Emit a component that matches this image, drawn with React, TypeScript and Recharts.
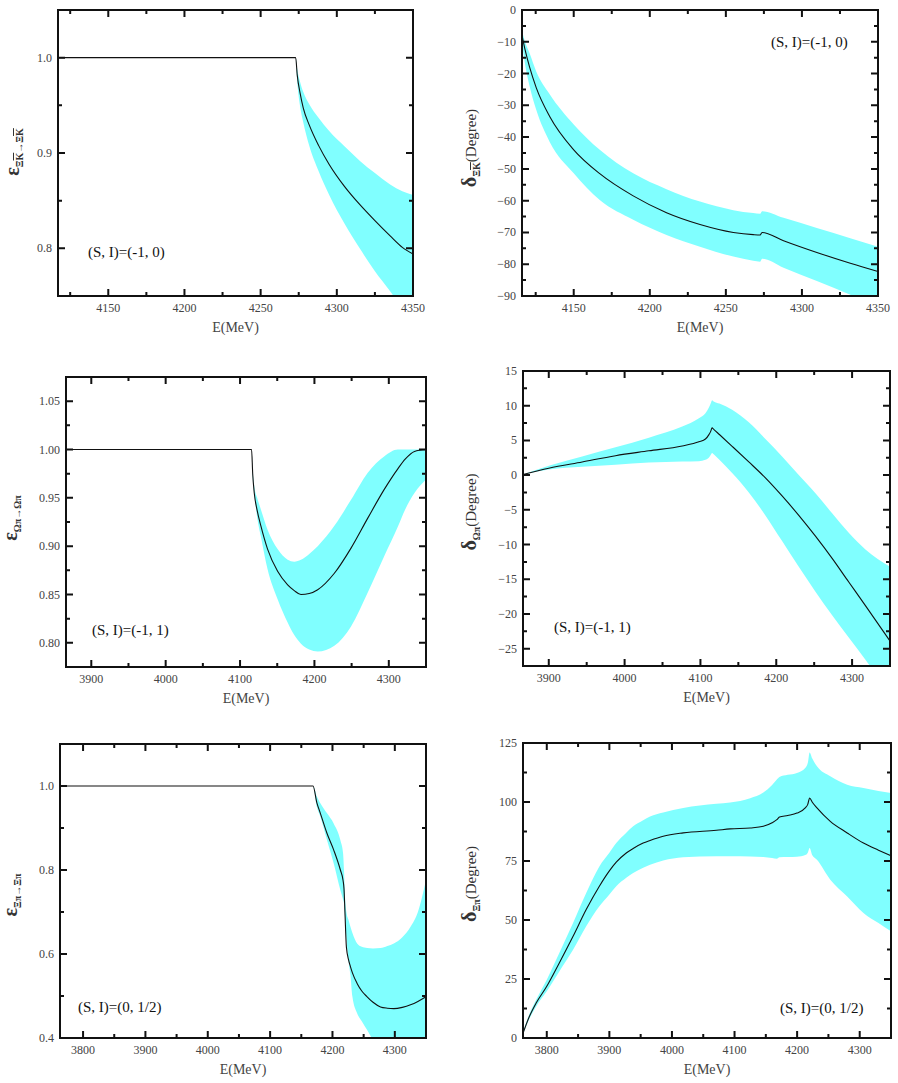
import React from "react";
import { ComposedChart, Area, Line, XAxis, YAxis } from "recharts";

const FONT = '"Liberation Serif", "DejaVu Serif", serif';
const BAND = "#80ffff";
const INK = "#111";

// ---- (S,I)=(-1,0) : inelasticity, Xi Kbar
const e1 = [4117, 4273, 4274, 4276, 4278, 4282, 4288, 4295, 4305, 4315, 4325, 4335, 4343, 4350];
const c1 = [1, 1, 0.982, 0.962, 0.947, 0.929, 0.908, 0.888, 0.865, 0.846, 0.829, 0.813, 0.801, 0.794];
const h1 = [1, 1, 0.988, 0.974, 0.964, 0.951, 0.937, 0.923, 0.907, 0.892, 0.879, 0.867, 0.86, 0.856];
const l1 = [1, 1, 0.975, 0.948, 0.932, 0.907, 0.881, 0.856, 0.826, 0.8, 0.776, 0.755, 0.737, 0.728];

// ---- (S,I)=(-1,0) : phase shift, Xi Kbar
const e2 = [4116, 4118, 4121, 4125.4, 4134.2, 4150, 4167.1, 4189.1, 4211, 4233, 4254.9, 4268, 4272.5, 4273.8, 4287.9, 4309.8, 4331.8, 4350];
const c2 = [-8, -12.5, -18, -24.5, -33.5, -44, -51.5, -58.5, -63.8, -67.5, -70, -70.7, -70.8, -70, -72.6, -76.3, -79.7, -82.3];
const h2 = [-6.5, -10, -13.6, -19.4, -26.5, -36, -44, -51.4, -56.4, -60.3, -63, -63.9, -64.1, -63.3, -65.4, -68.6, -71.8, -74.5];
const l2 = [-10, -17, -24, -31.5, -41.5, -51.4, -59.8, -66, -70.8, -74.5, -77.6, -78.9, -79.2, -78.3, -81.1, -85.3, -89.6, -93.1];

// ---- (S,I)=(-1,1) : inelasticity, Omega pi
const e3 = [3866, 4115.5, 4117, 4119.1, 4123, 4128, 4137, 4150.5, 4164, 4172.9, 4181.9, 4193, 4204.4, 4226.8, 4249.2, 4271.7, 4294.1, 4312.1, 4322, 4334.5, 4350];
const c3 = [1, 1, 0.975, 0.955, 0.937, 0.921, 0.897, 0.874, 0.86, 0.854, 0.85, 0.851, 0.855, 0.872, 0.898, 0.929, 0.959, 0.98, 0.99, 0.998, 1];
const h3 = [1, 1, 0.978, 0.962, 0.95, 0.938, 0.917, 0.897, 0.886, 0.884, 0.886, 0.892, 0.9, 0.921, 0.948, 0.976, 0.993, 1, 1, 1, 1];
const l3 = [1, 1, 0.972, 0.955, 0.93, 0.91, 0.876, 0.845, 0.821, 0.808, 0.799, 0.793, 0.791, 0.797, 0.817, 0.852, 0.89, 0.92, 0.938, 0.955, 0.969];

// ---- (S,I)=(-1,1) : phase shift, Omega pi
const e4 = [3866, 3900, 3944, 3988, 4032, 4076, 4098, 4106.6, 4111, 4113.5, 4115.4, 4117.5, 4125, 4141.8, 4163.8, 4185.7, 4207.7, 4229.7, 4251.7, 4273.7, 4295.6, 4317.6, 4350];
const c4 = [0.1, 1, 1.9, 2.8, 3.5, 4.2, 4.8, 5.2, 5.8, 6.3, 6.8, 6.6, 5.85, 4.15, 1.9, -0.4, -3, -5.8, -8.8, -12, -15.4, -18.8, -23.9];
const h4 = [0.1, 1.35, 2.7, 4, 5.4, 7, 8.2, 8.9, 9.7, 10.3, 10.8, 10.6, 10.3, 9.4, 7.6, 5.2, 2.7, 0, -2.6, -5.5, -8.3, -10.7, -13.2];
const l4 = [0.1, 0.8, 1.2, 1.5, 1.8, 1.95, 2, 2.2, 2.5, 2.9, 3.2, 3, 2.2, 0.3, -2.5, -5.8, -9.5, -13.2, -16.8, -20.2, -23.4, -26.6, -31.3];

// ---- (S,I)=(0,1/2) : inelasticity, Xi pi
const e5 = [3763, 4168.8, 4175, 4180.6, 4191.3, 4201.9, 4212.7, 4217, 4218.5, 4220, 4222.3, 4226, 4228.8, 4232, 4239.5, 4247, 4255.6, 4265, 4277, 4288, 4298.4, 4312, 4325.2, 4337, 4350];
const c5 = [1, 1, 0.96, 0.935, 0.887, 0.848, 0.8, 0.775, 0.755, 0.7, 0.617, 0.585, 0.57, 0.555, 0.53, 0.512, 0.498, 0.485, 0.474, 0.471, 0.47, 0.473, 0.479, 0.487, 0.498];
const h5 = [1, 1, 0.975, 0.959, 0.935, 0.911, 0.871, 0.84, 0.8, 0.74, 0.7, 0.68, 0.665, 0.65, 0.625, 0.617, 0.614, 0.613, 0.614, 0.619, 0.625, 0.64, 0.665, 0.7, 0.776];
const l5 = [1, 1, 0.95, 0.927, 0.871, 0.816, 0.752, 0.73, 0.72, 0.69, 0.64, 0.58, 0.55, 0.498, 0.459, 0.44, 0.419, 0.395, 0.37, 0.355, 0.345, 0.34, 0.34, 0.34, 0.345];

// ---- (S,I)=(0,1/2) : phase shift, Xi pi
const e6 = [3762, 3772, 3783, 3800, 3820, 3842, 3863, 3884, 3900, 3911, 3927, 3938, 3954, 3965, 3986, 4018, 4071, 4093, 4125, 4146, 4160, 4167.6, 4171.8, 4185, 4199.7, 4213, 4217, 4220, 4224, 4231.7, 4253, 4280, 4306, 4330, 4350];
const c6 = [2, 9, 14.8, 21.9, 31.8, 43.1, 54.4, 64.3, 70.8, 74.5, 78.4, 80.3, 82.6, 83.7, 85.5, 86.9, 88, 88.6, 89, 89.7, 91.2, 92.5, 93.6, 94.3, 95.3, 97.5, 99, 101.7, 100, 97.5, 91.8, 86.9, 82.6, 79.6, 77.2];
const h6 = [2.5, 10, 16.2, 24.7, 36, 48.7, 61.4, 72.7, 78.5, 82.6, 87, 89.7, 92.3, 93.9, 95.6, 97.5, 99.3, 99.8, 101.6, 104, 107.2, 109.5, 110.6, 111.5, 112.3, 114.4, 116.5, 121, 118.5, 115.1, 110.9, 107.3, 105.9, 104.7, 103.8];
const l6 = [1.5, 8, 13.4, 19.8, 28.2, 37.4, 47.3, 55.8, 60.8, 64.3, 67.9, 69.9, 72.1, 73.4, 75.2, 76.6, 77, 77, 76.9, 76.7, 76.3, 76, 76.6, 76.7, 76.8, 77.5, 78.5, 80.5, 77.5, 75.5, 67.1, 60, 53, 48.7, 45.2];

// ---- axis ticks
const xTicksA = [4150, 4200, 4250, 4300, 4350];
const xMinorA = [4125, 4175, 4225, 4275, 4325];
const xTicksB = [3900, 4000, 4100, 4200, 4300];
const xMinorB = [3950, 4050, 4150, 4250];
const xTicksC = [3800, 3900, 4000, 4100, 4200, 4300];
const xMinorC = [3850, 3950, 4050, 4150, 4250];

const yTicks1 = [0.8, 0.9, 1.0];
const yMinor1 = [0.85, 0.95];
const yTicks2 = [0, -10, -20, -30, -40, -50, -60, -70, -80, -90];
const yMinor2 = [-5, -15, -25, -35, -45, -55, -65, -75, -85];
const yTicks3 = [0.8, 0.85, 0.9, 0.95, 1.0, 1.05];
const yMinor3 = [0.825, 0.875, 0.925, 0.975, 1.025];
const yTicks4 = [15, 10, 5, 0, -5, -10, -15, -20, -25];
const yMinor4 = [12.5, 7.5, 2.5, -2.5, -7.5, -12.5, -17.5, -22.5];
const yTicks5 = [0.4, 0.6, 0.8, 1.0];
const yMinor5 = [0.5, 0.7, 0.9];
const yTicks6 = [0, 25, 50, 75, 100, 125];
const yMinor6 = [12.5, 37.5, 62.5, 87.5, 112.5];

const rows = (e: number[], c: number[], lo: number[], hi: number[]) =>
  e.map((E, i) => ({ E, c: c[i], band: [lo[i], hi[i]] }));

const PAD_L = 60;
const PAD_T = 10;
const PAD_R = 20;
const PAD_B = 44;
const MAJ = 7;
const MIN = 4;
const TICK_INK = "#111";

const minus = (s: string) => s.replace("-", "\u2212");

// labels plus inward ticks: majors longer, mirrored on the top edge
function XTick(props: any) {
  const { x, y, payload, majors, span } = props;
  const v = payload.value;
  const major = majors.includes(v);
  const len = major ? MAJ : MIN;
  return (
    <g>
      <path d={`M${x},${y}v${-len}M${x},${y - span}v${len}`} stroke={TICK_INK} strokeWidth={2} fill="none" />
      {major && (
        <text x={x} y={y + 16} textAnchor="middle" fontSize={12} fill="#444" fontFamily={FONT}>
          {v}
        </text>
      )}
    </g>
  );
}

// labels plus inward ticks on the left edge, mirrored on the right edge
function YTick(props: any) {
  const { x, y, payload, majors, span, fmt } = props;
  const v = payload.value;
  const major = majors.includes(v);
  const len = major ? MAJ : MIN;
  return (
    <g>
      <path d={`M${x},${y}h${len}M${x + span},${y}h${-len}`} stroke={TICK_INK} strokeWidth={2} fill="none" />
      {major && (
        <text x={x - 6} y={y + 4} textAnchor="end" fontSize={12} fill="#444" fontFamily={FONT}>
          {minus(fmt(v))}
        </text>
      )}
    </g>
  );
}

type PanelProps = {
  fx: number;
  fy: number;
  fw: number;
  fh: number;
  data: ReturnType<typeof rows>;
  xDomain: [number, number];
  xMajor: number[];
  xMinor: number[];
  yDomain: [number, number];
  yMajor: number[];
  yMinor: number[];
  yFmt: (v: number) => string;
  title: React.ReactNode;
  titleX: number;
  titleY: number;
  note: string;
  noteX: number;
  noteY: number;
};

function Panel(p: PanelProps) {
  const W = PAD_L + p.fw + PAD_R;
  const H = PAD_T + p.fh + PAD_B;
  const xAll = [...p.xMajor, ...p.xMinor].sort((a, b) => a - b);
  const yAll = [...p.yMajor, ...p.yMinor].sort((a, b) => a - b);
  const margin = { top: PAD_T, right: PAD_R, bottom: 0, left: 0 };
  return (
    <>
      <div style={{ position: "absolute", left: p.fx - PAD_L, top: p.fy - PAD_T, width: W, height: H }}>
        {/* layer 1: the uncertainty band */}
        <div style={{ position: "absolute", left: 0, top: 0 }}>
          <ComposedChart width={W} height={H} data={p.data} margin={margin}>
            <XAxis dataKey="E" type="number" domain={p.xDomain} height={PAD_B}
              axisLine={false} tickLine={false} tick={false} />
            <YAxis type="number" domain={p.yDomain} allowDataOverflow width={PAD_L}
              axisLine={false} tickLine={false} tick={false} />
            <Area
              dataKey="band"
              type="monotone"
              stroke="none"
              fill={BAND}
              fillOpacity={1}
              dot={false}
              activeDot={false}
              isAnimationActive={false}
            />
          </ComposedChart>
        </div>
        {/* layer 2: central line, ticks and labels on top */}
        <div style={{ position: "absolute", left: 0, top: 0 }}>
          <ComposedChart width={W} height={H} data={p.data} margin={margin}>
            <XAxis
              dataKey="E"
              type="number"
              domain={p.xDomain}
              ticks={xAll}
              interval={0}
              height={PAD_B}
              tickSize={0}
              tickMargin={0}
              axisLine={false}
              tickLine={false}
              tick={<XTick majors={p.xMajor} span={p.fh} />}
              label={{
                value: "E(MeV)",
                position: "insideBottom",
                offset: 8,
                style: { fontSize: 14, fill: "#444", fontFamily: FONT },
              }}
            />
            <YAxis
              type="number"
              domain={p.yDomain}
              allowDataOverflow
              ticks={yAll}
              interval={0}
              width={PAD_L}
              tickSize={0}
              tickMargin={0}
              axisLine={false}
              tickLine={false}
              tick={<YTick majors={p.yMajor} span={p.fw} fmt={p.yFmt} />}
            />
            <Line
              dataKey="c"
              type="monotone"
              stroke={INK}
              strokeWidth={1.1}
              dot={false}
              activeDot={false}
              isAnimationActive={false}
            />
          </ComposedChart>
        </div>
      </div>
      {/* plot frame */}
      <div
        style={{
          position: "absolute",
          left: p.fx - 1,
          top: p.fy - 1,
          width: p.fw + 2,
          height: p.fh + 2,
          boxSizing: "border-box",
          border: "2px solid #111",
          pointerEvents: "none",
        }}
      />
      <div
        style={{
          position: "absolute",
          left: p.titleX,
          top: p.titleY,
          transform: "translate(-50%, -50%) rotate(-90deg)",
          whiteSpace: "nowrap",
          fontFamily: FONT,
          color: "#333",
          fontSize: 15,
          lineHeight: "20px",
        }}
      >
        {p.title}
      </div>
      <div
        style={{
          position: "absolute",
          left: p.noteX,
          top: p.noteY,
          transform: "translateY(-50%)",
          whiteSpace: "nowrap",
          fontFamily: FONT,
          fontSize: 15,
          color: "#111",
        }}
      >
        {p.note}
      </div>
    </>
  );
}

const Kbar = () => <span style={{ textDecoration: "overline" }}>K</span>;
const sub = { fontSize: 10, fontWeight: 700 } as const;
const big = { fontSize: 20, fontWeight: 700 } as const;

export default function App() {
  return (
    <div style={{ position: "absolute", left: 0, top: 0, width: 898, height: 1083, background: "#fff" }}>
      <Panel
        fx={58} fy={10} fw={355} fh={286}
        data={rows(e1, c1, l1, h1)}
        xDomain={[4117, 4350]} xMajor={xTicksA} xMinor={xMinorA}
        yDomain={[0.75, 1.05]} yMajor={yTicks1} yMinor={yMinor1}
        yFmt={(v) => v.toFixed(1)}
        title={<><span style={big}>ε</span><sub style={sub}>Ξ<Kbar />→Ξ<Kbar /></sub></>}
        titleX={16} titleY={152}
        note="(S, I)=(-1, 0)" noteX={88} noteY={252}
      />
      <Panel
        fx={522} fy={10} fw={356} fh={286}
        data={rows(e2, c2, l2, h2)}
        xDomain={[4116, 4350]} xMajor={xTicksA} xMinor={xMinorA}
        yDomain={[-90, 0]} yMajor={yTicks2} yMinor={yMinor2}
        yFmt={(v) => String(v)}
        title={<><span style={big}>δ</span><sub style={sub}>Ξ<Kbar /></sub>(Degree)</>}
        titleX={473} titleY={148}
        note="(S, I)=(-1, 0)" noteX={771} noteY={42}
      />
      <Panel
        fx={66} fy={377} fw={360} fh={290}
        data={rows(e3, c3, l3, h3)}
        xDomain={[3866, 4350]} xMajor={xTicksB} xMinor={xMinorB}
        yDomain={[0.775, 1.075]} yMajor={yTicks3} yMinor={yMinor3}
        yFmt={(v) => v.toFixed(2)}
        title={<><span style={big}>ε</span><sub style={sub}>Ωπ→Ωπ</sub></>}
        titleX={14} titleY={518}
        note="(S, I)=(-1, 1)" noteX={92} noteY={630}
      />
      <Panel
        fx={523} fy={371} fw={367} fh={295}
        data={rows(e4, c4, l4, h4)}
        xDomain={[3866, 4350]} xMajor={xTicksB} xMinor={xMinorB}
        yDomain={[-27.5, 15]} yMajor={yTicks4} yMinor={yMinor4}
        yFmt={(v) => String(v)}
        title={<><span style={big}>δ</span><sub style={sub}>Ωπ</sub>(Degree)</>}
        titleX={473} titleY={512}
        note="(S, I)=(-1, 1)" noteX={554} noteY={627}
      />
      <Panel
        fx={60} fy={744} fw={366} fh={294}
        data={rows(e5, c5, l5, h5)}
        xDomain={[3763, 4350]} xMajor={xTicksC} xMinor={xMinorC}
        yDomain={[0.4, 1.1]} yMajor={yTicks5} yMinor={yMinor5}
        yFmt={(v) => v.toFixed(1)}
        title={<><span style={big}>ε</span><sub style={sub}>Ξπ→Ξπ</sub></>}
        titleX={14} titleY={895}
        note="(S, I)=(0, 1/2)" noteX={78} noteY={1007}
      />
      <Panel
        fx={523} fy={743} fw={368} fh={295}
        data={rows(e6, c6, l6, h6)}
        xDomain={[3762, 4350]} xMajor={xTicksC} xMinor={xMinorC}
        yDomain={[0, 125]} yMajor={yTicks6} yMinor={yMinor6}
        yFmt={(v) => String(v)}
        title={<><span style={big}>δ</span><sub style={sub}>Ξπ</sub>(Degree)</>}
        titleX={473} titleY={884}
        note="(S, I)=(0, 1/2)" noteX={780} noteY={1008}
      />
    </div>
  );
}
